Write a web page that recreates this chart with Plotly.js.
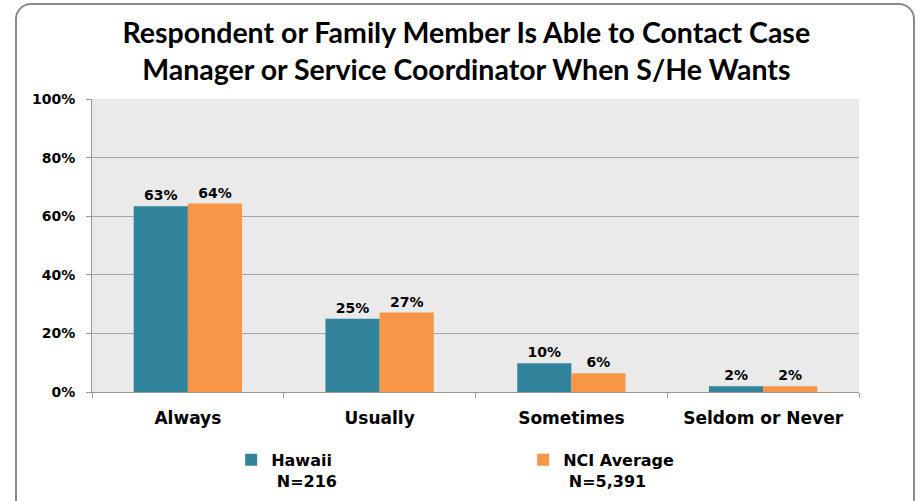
<!DOCTYPE html>
<html>
<head>
<meta charset="utf-8">
<script src="https://cdn.plot.ly/plotly-3.0.1.min.js"></script>
<style>
  html, body { margin: 0; padding: 0; background: #ffffff; }
  #wrap { position: relative; width: 921px; height: 501px; overflow: hidden; }
  #frame { position: absolute; left: 15px; top: 3px; width: 900px; height: 540px;
           border: 2px solid #8a8a8a; border-radius: 16px; box-sizing: border-box;
           pointer-events: none; }
  #chart { position: absolute; left: 0; top: 0; width: 921px; height: 501px; }
</style>
</head>
<body>
<div id="wrap">
  <div id="frame"></div>
  <div id="chart"></div>
</div>
<script>
const categories = ["Always", "Usually", "Sometimes", "Seldom or Never"];
const hawaiiValues = [63.4, 25.0, 9.8, 2.0];
const nciValues = [64.3, 27.1, 6.4, 2.0];
const seriesNames = ["Hawaii", "NCI Average"];
const seriesN = ["N=216", "N=5,391"];
const yTickVals = [0, 20, 40, 60, 80, 100];
const yTickText = ["0%", "20%", "40%", "60%", "80%", "100%"];
const titleText = "Respondent or Family Member Is Able to Contact Case<br>Manager or Service Coordinator When S/He Wants";

const labelFont = { family: "DejaVu Sans", size: 14, color: "#000000", weight: "bold" };

function makeTrace(values, idx, color) {
  return {
    type: "bar",
    x: categories,
    y: values,
    name: "<b>" + seriesNames[idx] + "</b><br><b> " + seriesN[idx] + "</b>",
    marker: { color: color, line: { width: 0 } },
    text: values.map(v => Math.round(v) + "%"),
    textposition: "outside",
    textfont: labelFont,
    cliponaxis: false,
    hoverinfo: "x+y"
  };
}

const data = [
  makeTrace(hawaiiValues, 0, "#31849B"),
  makeTrace(nciValues, 1, "#F79646")
];

const layout = {
  width: 921,
  height: 501,
  paper_bgcolor: "rgba(0,0,0,0)",
  plot_bgcolor: "#EAEAEA",
  margin: { l: 92, r: 62, t: 99, b: 109 },
  title: {
    text: "<b>" + titleText + "</b>",
    font: { family: "Lato, 'Liberation Sans', sans-serif", size: 28.5, color: "#000000" },
    x: 0.488, xref: "paper", xanchor: "center",
    y: 0.914, yref: "container", yanchor: "middle"
  },
  barmode: "group",
  bargap: 0.435,
  bargroupgap: 0,
  showlegend: true,
  legend: {
    orientation: "h",
    x: 0.251, xref: "container", xanchor: "left",
    y: 0.116, yref: "container", yanchor: "top",
    valign: "top",
    entrywidth: 247, entrywidthmode: "pixels",
    font: { family: "DejaVu Sans", size: 16, color: "#000000" },
    bgcolor: "rgba(0,0,0,0)"
  },
  xaxis: {
    type: "category",
    tickson: "boundaries",
    ticks: "outside",
    ticklen: 5,
    tickcolor: "#9a9a9a",
    showline: true,
    linecolor: "#9a9a9a",
    linewidth: 1,
    showgrid: false,
    ticklabelstandoff: 11,
    tickfont: { family: "DejaVu Sans", size: 17, color: "#000000", weight: "bold" }
  },
  yaxis: {
    range: [0, 100],
    tickvals: yTickVals,
    ticktext: yTickText,
    ticks: "outside",
    ticklen: 5,
    tickcolor: "#9a9a9a",
    showline: true,
    linecolor: "#9a9a9a",
    linewidth: 1,
    showgrid: true,
    gridcolor: "#a6a6a6",
    gridwidth: 1,
    zeroline: false,
    ticklabelstandoff: 8,
    tickfont: { family: "DejaVu Sans", size: 14, color: "#000000", weight: "bold" },
    fixedrange: true
  }
};

Plotly.newPlot("chart", data, layout, { displayModeBar: false, staticPlot: true });
</script>
</body>
</html>
